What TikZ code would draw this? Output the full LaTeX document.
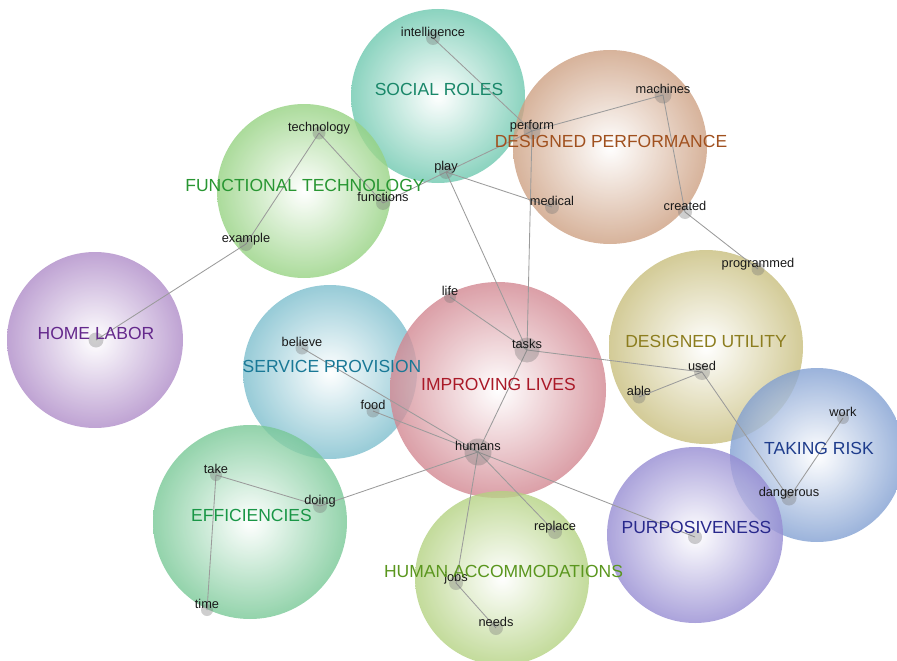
\documentclass[tikz,border=0pt]{standalone}
\usepackage{fontspec}
\setmainfont{Liberation Sans}

% bubble fills and their heading colours
\definecolor{srFill}{RGB}{110,200,175}\definecolor{srText}{RGB}{25,135,105}
\definecolor{dpFill}{RGB}{205,160,130}\definecolor{dpText}{RGB}{160,80,30}
\definecolor{ftFill}{RGB}{150,210,130}\definecolor{ftText}{RGB}{40,150,50}
\definecolor{hlFill}{RGB}{175,140,200}\definecolor{hlText}{RGB}{100,40,140}
\definecolor{spFill}{RGB}{125,190,205}\definecolor{spText}{RGB}{25,120,150}
\definecolor{ilFill}{RGB}{210,135,145}\definecolor{ilText}{RGB}{170,25,40}
\definecolor{duFill}{RGB}{200,190,125}\definecolor{duText}{RGB}{140,125,30}
\definecolor{trFill}{RGB}{130,160,210}\definecolor{trText}{RGB}{30,60,140}
\definecolor{puFill}{RGB}{150,140,210}\definecolor{puText}{RGB}{40,40,140}
\definecolor{efFill}{RGB}{120,200,150}\definecolor{efText}{RGB}{25,150,70}
\definecolor{haFill}{RGB}{180,210,130}\definecolor{haText}{RGB}{90,150,30}
\definecolor{linkGray}{RGB}{155,155,155}

\pgfdeclarelayer{bubbles}
\pgfdeclarelayer{links}
\pgfsetlayers{bubbles,links,main}

% a term: translucent grey dot with its word set just above it
\newcommand\termat[5]{%
  \node[termdot, minimum size=#4pt] (#1) at (#2,#3) {};
  \node[termtext, anchor=base] (#1-t) at (#2,#3-1.5) {#5};
}

\begin{document}
\begin{tikzpicture}[x=1pt,y=-1pt,
  bubble/.style n args={2}{circle, inner sep=0pt, minimum size=2*#1pt,
    inner color=white, outer color=#2, fill opacity=0.8},
  heading/.style={inner sep=0pt, font=\fontsize{17.5}{20}\selectfont},
  termdot/.style={circle, inner sep=0pt, fill=black!55, fill opacity=0.35},
  termtext/.style={inner sep=0pt, text=black!90, font=\fontsize{12.8}{15}\selectfont},
  link/.style={draw=linkGray, line width=0.85pt}]

\useasboundingbox (0,0) rectangle (897,661);

% theme bubbles
\begin{pgfonlayer}{bubbles}
\node[bubble={87}{srFill}] (sr) at (438,96) {};
\node[bubble={97}{dpFill}] (dp) at (610,147) {};
\node[bubble={87}{ftFill}] (ft) at (304,191) {};
\node[bubble={88}{hlFill}] (hl) at (95,340) {};
\node[bubble={87}{spFill}] (sp) at (330,372) {};
\node[bubble={108}{ilFill}] (il) at (498,390) {};
\node[bubble={97}{duFill}] (du) at (706,347) {};
\node[bubble={87}{trFill}] (tr) at (817,455) {};
\node[bubble={88}{puFill}] (pu) at (695,535) {};
\node[bubble={97}{efFill}] (ef) at (250,522) {};
\node[bubble={87}{haFill}] (ha) at (502,578) {};
\end{pgfonlayer}

% terms
\termat{intelligence}{433}{38}{14}{intelligence}
\termat{perform}{532}{131}{17}{perform}
\termat{machines}{663}{95}{17}{machines}
\termat{play}{446}{172}{14}{play}
\termat{medical}{552}{207}{14}{medical}
\termat{created}{685}{212}{14}{created}
\termat{technology}{319}{133}{13}{technology}
\termat{functions}{383}{203}{14}{functions}
\termat{example}{246}{244}{14}{example}
\termat{programmed}{758}{269}{13}{programmed}
\termat{life}{450}{297}{12}{life}
\termat{tasks}{527}{350}{25}{tasks}
\termat{used}{702}{372}{16}{used}
\termat{able}{639}{397}{13}{able}
\termat{believe}{302}{348}{13}{believe}
\termat{food}{373}{411}{13}{food}
\termat{humans}{478}{452}{27}{humans}
\termat{work}{843}{418}{12}{work}
\termat{dangerous}{789}{498}{15}{dangerous}
\termat{take}{216}{475}{12}{take}
\termat{doing}{320}{506}{14}{doing}
\termat{time}{207}{610}{12}{time}
\termat{replace}{555}{532}{14}{replace}
\termat{jobs}{456}{583}{14}{jobs}
\termat{needs}{496}{628}{14}{needs}
\node[termdot, minimum size=15pt] (homedot) at (96,340) {};
\node[termdot, minimum size=14pt] (purpdot) at (695,537) {};

% bubble headings
\node[heading, text=srText] (sr-t) at (439,89.5) {SOCIAL ROLES};
\node[heading, text=dpText] (dp-t) at (611,141) {DESIGNED PERFORMANCE};
\node[heading, text=ftText] (ft-t) at (305,185) {FUNCTIONAL TECHNOLOGY};
\node[heading, text=hlText] (hl-t) at (96,333) {HOME LABOR};
\node[heading, text=spText] (sp-t) at (332,366) {SERVICE PROVISION};
\node[heading, text=ilText] (il-t) at (498.5,384) {IMPROVING LIVES};
\node[heading, text=duText] (du-t) at (706,341) {DESIGNED UTILITY};
\node[heading, text=trText] (tr-t) at (819,448.5) {TAKING RISK};
\node[heading, text=puText] (pu-t) at (696.5,527.5) {PURPOSIVENESS};
\node[heading, text=efText] (ef-t) at (251.5,515.5) {EFFICIENCIES};
\node[heading, text=haText] (ha-t) at (503.5,571) {HUMAN ACCOMMODATIONS};

% co-occurrence links
\begin{pgfonlayer}{links}
\draw[link] (intelligence.center) -- (perform.center);
\draw[link] (perform.center) -- (machines.center);
\draw[link] (machines.center) -- (created.center);
\draw[link] (created.center) -- (programmed.center);
\draw[link] (play.center) -- (perform.center);
\draw[link] (perform.center) -- (tasks.center);
\draw[link] (play.center) -- (medical.center);
\draw[link] (play.center) -- (tasks.center);
\draw[link] (functions.center) -- (play.center);
\draw[link] (technology.center) -- (functions.center);
\draw[link] (technology.center) -- (example.center);
\draw[link] (example.center) -- (homedot.center);
\draw[link] (life.center) -- (tasks.center);
\draw[link] (tasks.center) -- (used.center);
\draw[link] (tasks.center) -- (humans.center);
\draw[link] (used.center) -- (able.center);
\draw[link] (used.center) -- (dangerous.center);
\draw[link] (dangerous.center) -- (work.center);
\draw[link] (believe.center) -- (humans.center);
\draw[link] (food.center) -- (humans.center);
\draw[link] (humans.center) -- (doing.center);
\draw[link] (humans.center) -- (jobs.center);
\draw[link] (humans.center) -- (replace.center);
\draw[link] (humans.center) -- (purpdot.center);
\draw[link] (take.center) -- (doing.center);
\draw[link] (take.center) -- (time.center);
\draw[link] (jobs.center) -- (needs.center);
\end{pgfonlayer}

\end{tikzpicture}
\end{document}
